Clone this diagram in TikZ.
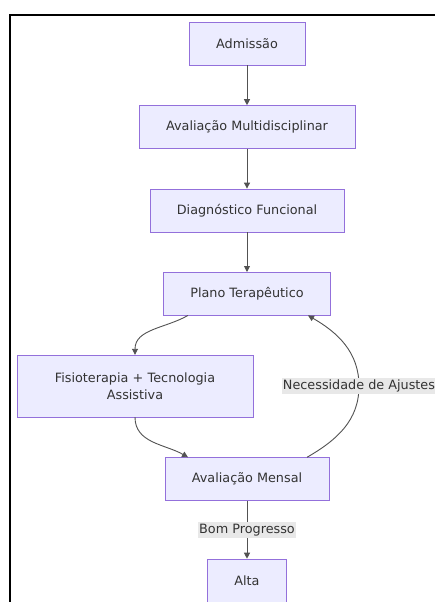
\documentclass[tikz,border=0pt]{standalone}
\usepackage{fontspec}
\setmainfont{DejaVu Sans}
\usetikzlibrary{positioning,arrows.meta}
\definecolor{boxfill}{HTML}{ECECFF}
\definecolor{boxline}{HTML}{9370DB}
\definecolor{txt}{HTML}{333333}
\definecolor{lblfill}{HTML}{E8E8E8}

\begin{document}
\begin{tikzpicture}[x=1pt,y=1pt]
    \tikzset{stage/.style=
        {draw=boxline, fill=boxfill, text=txt, minimum height=43pt,
            inner xsep=27pt, align=center, font=\fontsize{12.8}{17}\selectfont},
        flow/.style={draw=txt!85, line width=0.9pt, -{Triangle[length=6pt,width=6pt]}},
        tag/.style={fill=lblfill, text=txt, inner xsep=1pt, inner ysep=2pt,
            font=\fontsize{12.8}{17}\selectfont}}
    \fill[white] (0,0) rectangle (434,-602);
    \useasboundingbox (0,0) rectangle (434,-602);
    \draw[line width=2pt] (10,-620) -- (10,-15) -- (450,-15);
    \node[stage] (adm) at (247,-43.5) {Admissão};
    \node[stage,below=40pt of adm] (multi) {Avaliação Multidisciplinar};
    \node[stage,below=40pt of multi] (diag) {Diagnóstico Funcional};
    \node[stage,below=40pt of diag] (plano) {Plano Terapêutico};
    \node[stage,text width=182pt,minimum height=62pt] (fisio) at (135,-386)
        {Fisioterapia + Tecnologia\\Assistiva};
    \node[stage] (mensal) at (247,-479) {Avaliação Mensal};
    \node[stage,below=58pt of mensal] (alta) {Alta};
    \coordinate (loop) at (359,-386);
    \draw[flow] (adm) -- (multi);
    \draw[flow] (multi) -- (diag);
    \draw[flow] (diag) -- (plano);
    \draw[flow] ([xshift=-59pt]plano.south) to[out=-150,in=90] (fisio.north);
    \draw[flow] (fisio.south) to[out=-90,in=150] ([xshift=-59pt]mensal.north);
    \draw[flow] ([xshift=60pt]mensal.north) to[out=30,in=-90] (loop)
        node[tag] {Necessidade de Ajustes}
        to[out=90,in=-30] ([xshift=61pt]plano.south);
    \draw[flow] (mensal) -- node[tag] {Bom Progresso} (alta);
\end{tikzpicture}
\end{document}
